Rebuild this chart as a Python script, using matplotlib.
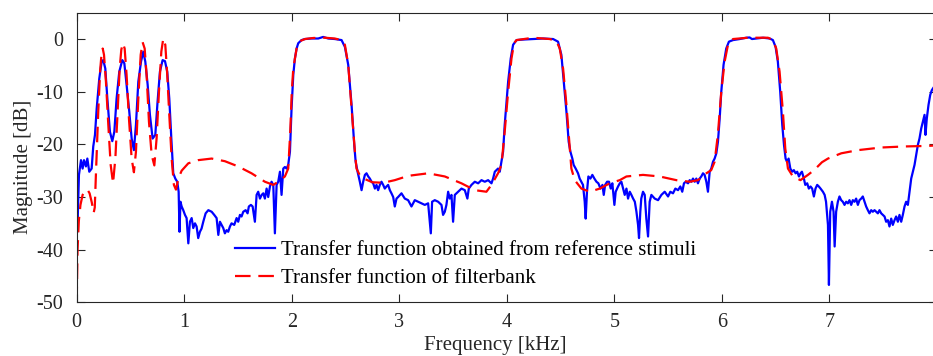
import matplotlib
matplotlib.use("Agg")
import matplotlib.pyplot as plt

# Measured transfer function (reference stimuli)
meas_f = [0.0, 0.006, 0.021, 0.040, 0.055, 0.068, 0.086, 0.099, 0.117, 0.139, 0.154, 0.170, 0.186, 0.210, 0.232, 0.247, 0.266, 0.285, 0.309, 0.331, 0.350, 0.371, 0.396, 0.424, 0.443, 0.464, 0.489, 0.511, 0.532, 0.551, 0.573, 0.598, 0.619, 0.638, 0.660, 0.681, 0.706, 0.731, 0.752, 0.774, 0.799, 0.821, 0.842, 0.861, 0.880, 0.898, 0.917, 0.935, 0.948,
          0.956, 0.965, 0.976, 0.991, 1.007, 1.022, 1.038, 1.053, 1.069, 1.084, 1.1, 1.115, 1.13, 1.146, 1.161, 1.177, 1.199, 1.224, 1.255, 1.279, 1.301, 1.317, 1.332, 1.347, 1.363, 1.378, 1.394, 1.409, 1.425, 1.44, 1.465, 1.487, 1.502, 1.518, 1.533, 1.549, 1.571, 1.589, 1.601, 1.62, 1.636, 1.657, 1.673, 1.688, 1.704, 1.72, 1.735, 1.75, 1.766, 1.781, 1.797, 1.812, 1.828, 1.843, 1.859, 1.874, 1.89, 1.905, 1.921, 1.936, 1.952, 1.967, 1.983, 1.998,
          2.014, 2.029, 2.045, 2.06, 2.091, 2.122, 2.184, 2.246, 2.292, 2.339, 2.401, 2.463, 2.494, 2.525, 2.556, 2.581, 2.594, 2.612, 2.633, 2.649, 2.664, 2.68, 2.695, 2.711, 2.726, 2.742, 2.757, 2.773, 2.788, 2.803, 2.819, 2.834, 2.85, 2.865, 2.881, 2.896, 2.912, 2.927, 2.943, 2.958, 2.974, 2.989,
          3.02, 3.051, 3.082, 3.113, 3.144, 3.175, 3.206, 3.237, 3.268, 3.293, 3.305, 3.33, 3.361, 3.392, 3.407, 3.423, 3.438, 3.454, 3.469, 3.485, 3.5, 3.516, 3.547, 3.578, 3.609, 3.633, 3.646, 3.671, 3.702, 3.733, 3.764, 3.795, 3.826, 3.857, 3.872, 3.888, 3.918, 3.934, 3.95, 3.965, 3.98,
          4.012, 4.036, 4.058, 4.09, 4.152, 4.244, 4.337, 4.43, 4.476, 4.507, 4.532, 4.554, 4.575, 4.591, 4.609, 4.621, 4.64, 4.662, 4.677, 4.693, 4.708, 4.724, 4.733, 4.745, 4.758, 4.777, 4.795, 4.814, 4.833, 4.851, 4.871, 4.889, 4.901, 4.914, 4.932, 4.95, 4.966, 4.981,
          5.0, 5.012, 5.034, 5.05, 5.065, 5.081, 5.096, 5.112, 5.127, 5.143, 5.158, 5.174, 5.19, 5.205, 5.22, 5.229, 5.241, 5.25, 5.266, 5.282, 5.297, 5.313, 5.328, 5.344, 5.375, 5.406, 5.437, 5.468, 5.499, 5.52, 5.545, 5.567, 5.592, 5.613, 5.631, 5.647, 5.663, 5.685, 5.7, 5.716, 5.731, 5.747, 5.762, 5.777, 5.793, 5.808, 5.824, 5.839, 5.855, 5.87, 5.886, 5.901, 5.917, 5.932, 5.948, 5.963, 5.979, 5.994,
          6.015, 6.04, 6.065, 6.103, 6.165, 6.227, 6.258, 6.279, 6.32, 6.382, 6.444, 6.474, 6.499, 6.52, 6.542, 6.561, 6.577, 6.592, 6.605, 6.62, 6.636, 6.654, 6.669, 6.685, 6.7, 6.716, 6.731, 6.744, 6.762, 6.775, 6.793, 6.808, 6.824, 6.839, 6.855, 6.87, 6.886, 6.901, 6.917, 6.939, 6.955, 6.968, 6.986, 6.995,
          7.007, 7.023, 7.038, 7.048, 7.062, 7.078, 7.093, 7.109, 7.124, 7.14, 7.155, 7.171, 7.186, 7.202, 7.217, 7.233, 7.248, 7.264, 7.279, 7.295, 7.31, 7.326, 7.341, 7.357, 7.372, 7.388, 7.403, 7.419, 7.434, 7.45, 7.465, 7.481, 7.496, 7.512, 7.527, 7.543, 7.558, 7.574, 7.589, 7.605, 7.62, 7.636, 7.651, 7.667, 7.682, 7.698, 7.713, 7.729, 7.744, 7.76, 7.775, 7.791, 7.806, 7.822, 7.837, 7.853, 7.868, 7.884, 7.893, 7.905, 7.921, 7.937, 7.952, 7.975, 8.0]
meas_db = [-31.8, -36.6, -25.8, -23.0, -24.6, -23.0, -24.2, -22.7, -25.2, -24.6, -20.4, -18.2, -13.2, -7.5, -4.3, -4.0, -5.6, -11.3, -17.6, -19.4, -17.6, -11.3, -6.2, -4.0, -4.6, -8.7, -13.8, -18.9, -21.1, -16.3, -8.1, -4.3, -2.4, -4.3, -8.7, -14.4, -18.9, -18.2, -11.9, -6.2, -4.0, -4.2, -6.2, -11.3, -18.9, -25.5, -26.5, -27.1, -29.0,
           -36.6, -30.9, -31.8, -32.5, -33.4, -34.0, -38.8, -34.7, -34.0, -35.9, -35.0, -35.6, -37.8, -36.6, -36.0, -34.7, -33.1, -32.5, -32.8, -33.4, -34.0, -37.2, -34.7, -35.3, -35.9, -36.9, -36.3, -36.6, -35.6, -35.0, -35.3, -34.0, -34.7, -33.4, -33.7, -32.8, -32.5, -33.1, -31.8, -31.5, -31.8, -34.7, -29.6, -29.0, -30.3, -29.6, -29.3, -30.3, -28.4, -30.0, -28.0, -27.1, -27.7, -36.9, -27.7, -27.1, -25.2, -29.6, -24.6, -24.3, -24.6, -23.9, -21.4, -13.2,
           -6.8, -3.7, -1.8, -0.8, -0.2, 0.0, 0.1, 0.1, 0.4, 0.1, 0.0, -0.2, -1.5, -4.9, -12.5, -20.1, -23.3, -25.2, -27.1, -28.7, -27.1, -25.8, -25.5, -26.1, -26.5, -27.1, -27.4, -28.4, -27.7, -28.7, -27.7, -27.1, -27.7, -28.4, -28.0, -27.7, -28.7, -29.3, -30.0, -31.8, -30.3, -30.0,
           -29.3, -30.3, -30.6, -31.8, -30.6, -30.9, -31.2, -31.5, -31.2, -36.9, -30.9, -30.6, -30.9, -31.5, -33.4, -32.8, -31.5, -29.0, -30.3, -29.6, -34.7, -29.6, -29.0, -28.4, -28.7, -30.3, -28.4, -27.7, -27.1, -27.4, -26.8, -27.1, -26.8, -27.4, -26.5, -25.2, -24.6, -25.2, -23.3, -21.4, -16.3,
           -8.1, -3.7, -1.1, -0.2, -0.1, 0.0, 0.1, 0.0, -0.5, -3.0, -8.7, -13.8, -19.5, -21.4, -22.7, -23.9, -24.6, -25.5, -26.5, -27.1, -27.7, -30.9, -34.1, -29.0, -26.1, -26.5, -25.8, -26.5, -27.1, -27.4, -28.4, -27.7, -29.6, -27.7, -27.1, -27.1, -28.4, -27.4,
           -31.5, -29.0, -28.0, -27.4, -27.1, -28.4, -29.6, -28.4, -30.3, -29.0, -29.6, -30.3, -30.9, -32.8, -35.3, -37.8, -32.8, -30.3, -29.0, -29.6, -34.1, -37.5, -30.9, -29.6, -30.3, -30.6, -29.6, -29.0, -29.9, -29.0, -29.3, -28.4, -28.7, -28.0, -29.0, -27.4, -27.1, -27.4, -26.8, -27.1, -26.5, -27.1, -26.5, -27.4, -26.5, -26.1, -25.5, -25.8, -27.1, -29.0, -25.2, -24.6, -23.3, -22.7, -21.7, -19.5, -15.1, -10.0,
           -4.9, -1.8, -0.5, -0.2, 0.0, 0.25, 0.3, 0.0, 0.1, 0.25, 0.1, -0.2, -1.5, -4.3, -10.0, -16.3, -20.1, -22.7, -23.3, -22.7, -24.6, -25.2, -24.9, -25.5, -25.2, -26.1, -25.5, -25.2, -26.5, -27.7, -27.4, -28.4, -28.0, -28.4, -29.9, -28.4, -27.7, -28.0, -28.4, -29.0, -29.6, -30.9, -35.3, -46.7,
           -32.8, -30.9, -32.8, -39.4, -32.8, -30.9, -29.9, -30.6, -30.9, -31.5, -30.9, -31.2, -30.6, -31.5, -30.6, -30.9, -30.3, -31.5, -30.6, -30.3, -29.9, -30.9, -31.8, -32.5, -33.1, -32.5, -32.8, -32.5, -32.8, -33.1, -32.5, -33.1, -33.4, -33.7, -34.7, -34.4, -35.6, -34.1, -35.3, -34.4, -33.7, -34.7, -33.4, -34.7, -33.4, -31.8, -30.9, -31.5, -29.0, -26.5, -25.2, -23.9, -22.0, -20.1, -18.9, -17.0, -15.7, -14.4, -18.2, -15.1, -12.5, -10.6, -9.7, -9.0, -8.3]

# Designed filterbank transfer function
bank_f = [0.0, 0.008, 0.02, 0.035, 0.055, 0.08, 0.1, 0.12, 0.14, 0.158, 0.168, 0.18, 0.2, 0.218, 0.232, 0.242, 0.254, 0.272, 0.294, 0.316, 0.338, 0.36, 0.38, 0.4, 0.415, 0.43, 0.446, 0.464, 0.486, 0.511, 0.532, 0.551, 0.573, 0.595, 0.613, 0.632, 0.650, 0.672, 0.697, 0.722, 0.743, 0.765, 0.787, 0.805, 0.824, 0.842, 0.861, 0.883, 0.904, 0.923, 0.945, 0.976,
          1.038, 1.13, 1.255, 1.378, 1.502, 1.626, 1.75, 1.828, 1.874, 1.936, 1.967, 1.985, 2.0, 2.014, 2.045, 2.076, 2.122, 2.2, 2.308, 2.4, 2.463, 2.494, 2.525, 2.556, 2.587, 2.602, 2.633, 2.68, 2.75, 2.85, 2.958,
          3.05, 3.113, 3.268, 3.423, 3.578, 3.702, 3.81, 3.857, 3.918, 3.95, 3.98, 4.012, 4.043, 4.067, 4.09, 4.244, 4.399, 4.461, 4.492, 4.523, 4.554, 4.585, 4.6, 4.631, 4.693, 4.771, 4.864, 4.957,
          5.05, 5.112, 5.266, 5.421, 5.576, 5.7, 5.777, 5.855, 5.9, 5.932, 5.962, 5.994, 6.025, 6.056, 6.103, 6.242, 6.428, 6.474, 6.505, 6.536, 6.567, 6.589, 6.614, 6.66, 6.73, 6.8, 6.862, 6.93, 6.986,
          7.11, 7.265, 7.481, 7.698, 7.909, 8.0]
bank_db = [-50.0, -40.0, -34.5, -31.5, -29.6, -28.8, -28.6, -29.3, -31.0, -33.0, -32.0, -25.0, -14.0, -6.0, -2.6, -1.8, -3.0, -8.1, -16.3, -23.9, -27.4, -22.5, -14.0, -5.5, -2.0, -0.8, -1.8, -6.8, -15.1, -22.7, -25.3, -21.4, -11.3, -3.0, -0.6, -1.8, -6.8, -15.7, -22.0, -24.0, -18.9, -10.0, -2.4, 0.1, -1.1, -6.8, -14.4, -22.7, -27.7, -28.6, -26.5, -25.0,
           -23.6, -23.0, -22.7, -23.2, -24.2, -25.5, -27.1, -27.7, -27.1, -26.1, -24.6, -18.0, -10.0, -5.6, -1.8, -0.4, 0.0, 0.2, 0.25, 0.1, -0.2, -1.1, -4.9, -13.2, -21.4, -24.6, -25.9, -26.6, -27.2, -27.3, -26.8,
           -26.2, -25.9, -25.5, -26.1, -27.4, -28.7, -29.0, -27.7, -25.5, -23.9, -17.6, -10.0, -3.7, -0.8, -0.2, 0.25, 0.0, -0.4, -1.8, -5.6, -12.5, -20.8, -24.6, -26.8, -28.4, -29.0, -28.4, -27.4,
           -26.8, -26.1, -25.8, -26.1, -26.8, -27.1, -26.8, -25.5, -24.9, -23.3, -18.2, -10.0, -4.3, -1.1, 0.0, 0.25, 0.25, -0.2, -1.8, -6.2, -13.8, -20.8, -24.6, -26.1, -26.8, -25.8, -24.8, -23.4, -22.7,
           -21.7, -21.1, -20.6, -20.4, -20.3, -20.2]

x_ticks = [0, 1, 2, 3, 4, 5, 6, 7, 8]
y_ticks = [-50, -40, -30, -20, -10, 0]
labels = ["Transfer function obtained from reference stimuli",
          "Transfer function of filterbank"]

plt.rcParams["font.family"] = ["Liberation Serif", "DejaVu Serif"]
plt.rcParams["axes.unicode_minus"] = False

axis_col = "#262626"
fig = plt.figure(figsize=(9.33, 3.56), dpi=100)
ax = fig.add_axes([0.0822, 0.1508, 0.9221, 0.8135])

ax.plot(meas_f, meas_db, color=(0, 0, 1), lw=1.6, label=labels[0])
ax.plot(bank_f, bank_db, color=(1, 0, 0), lw=1.6, linestyle=(0, (7, 3.5)),
        label=labels[1])

ax.set_xlim(0, 8)
ax.set_ylim(-50, 5)
ax.set_xticks(x_ticks)
ax.set_xticklabels([str(v) for v in x_ticks])
ax.set_yticks(y_ticks)
ax.set_yticklabels([str(v) for v in y_ticks])

ax.tick_params(direction="in", length=6, width=0.8, top=True, right=True,
               labelsize=14.5, colors=axis_col)
ax.tick_params(axis="y", pad=10)
ax.tick_params(axis="x", pad=8)
for s in ax.spines.values():
    s.set_color(axis_col)
    s.set_linewidth(0.8)

ax.set_xlabel("Frequency [kHz]", fontsize=15, color=axis_col)
ax.set_ylabel("Magnitude [dB]", fontsize=15, color=axis_col)
ax.xaxis.set_label_coords(0.487, -0.118)
ax.yaxis.set_label_coords(-0.051, 0.469)

leg = ax.legend(loc="upper left", bbox_to_anchor=(0.184, 0.213), frameon=False,
                fontsize=15, handlelength=1.92, handletextpad=0.29,
                labelspacing=0.4, borderpad=0, borderaxespad=0)
for t in leg.get_texts():
    t.set_color("black")

fig.savefig("out.png", dpi=100)
